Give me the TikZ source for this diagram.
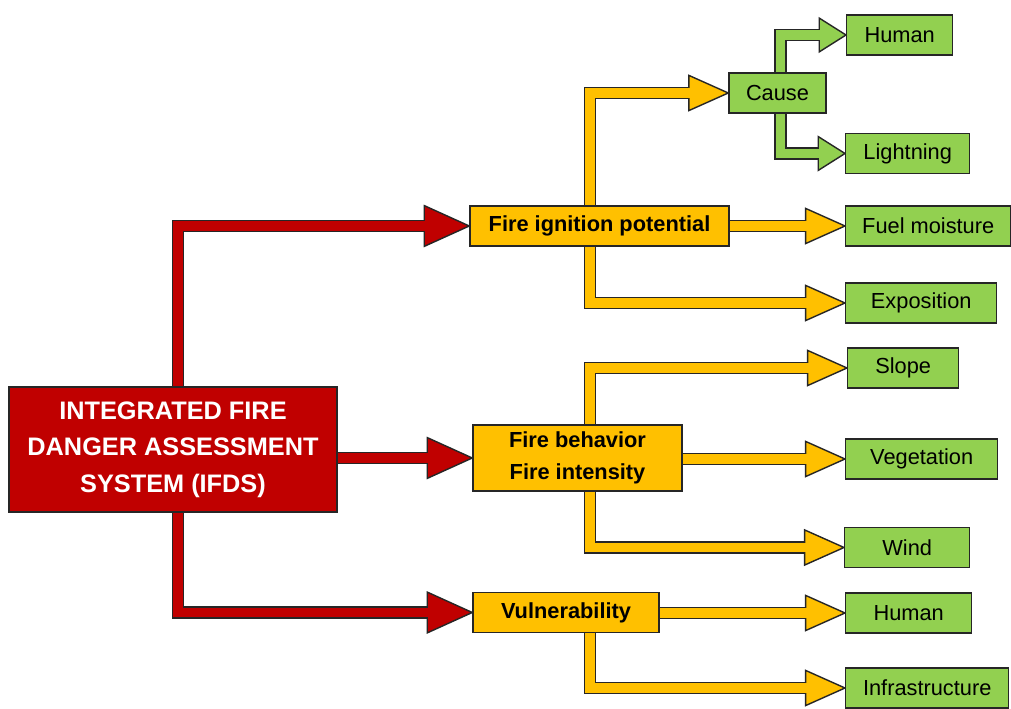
\documentclass[tikz,border=0pt]{standalone}
\usepackage{fontspec}
\setmainfont{Liberation Sans}
\usetikzlibrary{positioning,backgrounds}

\definecolor{ifdsred}{HTML}{C00000}
\definecolor{fireyellow}{HTML}{FFC000}
\definecolor{leafgreen}{HTML}{92D050}
\definecolor{edge}{HTML}{262626}

% block arrow: colour, head length, head half width, start, path op, target
\newcommand{\blockarrow}[6]{%
  \draw[edge,line width=9pt,line join=miter] (#4) #5 ([xshift=-#2]#6);
  \filldraw[fill=#1,draw=edge,line width=1pt,line join=miter]
    (#6) -- ++(-#2,#3) -- ++(0,-2*#3) -- cycle;
  \draw[#1,line width=7pt,line join=miter] (#4) #5 ([xshift=-#2+1.5pt]#6);
}

\begin{document}
\begin{tikzpicture}[x=0.025cm,y=0.025cm,
    box/.style={draw=edge,line width=1pt,inner sep=0pt,align=center},
    rootbox/.style={box,fill=ifdsred,text=white,
      font=\fontsize{18}{26}\selectfont\bfseries,
      minimum width=8.2cm,minimum height=3.125cm},
    midbox/.style={box,fill=fireyellow,
      font=\fontsize{15.5}{22.8}\selectfont\bfseries,minimum height=1cm},
    leafbox/.style={box,fill=leafgreen,
      font=\fontsize{15.5}{18}\selectfont,minimum height=1cm}]

    \useasboundingbox (0,0) rectangle (1011,709);

    \node[rootbox] (ifds) at (173,259.5)
      {INTEGRATED FIRE\\DANGER ASSESSMENT\\SYSTEM (IFDS)};
    \node[midbox,minimum width=6.475cm] (fip) at (599.5,483) {Fire ignition potential};
    \node[midbox,minimum width=5.225cm,minimum height=1.65cm] (fbh) at (577.5,251)
      {Fire behavior\\Fire intensity};
    \node[midbox,minimum width=4.65cm] (vul) at (566,96.5) {Vulnerability};
    \node[leafbox,minimum width=2.425cm] (cause) at (777.5,616) {Cause};

    \foreach \n/\t/\x/\y/\w in {human1/Human/846/674/2.65,
        light/Lightning/845/555.5/3.1, fuel/Fuel moisture/845/483/4.125,
        expo/Exposition/845/406/3.775, slope/Slope/847/341/2.775,
        veg/Vegetation/845/250/3.8, wind/Wind/844/161.5/3.125,
        human2/Human/845/96/3.15, infra/Infrastructure/845/21/4.075}
      \node[leafbox,anchor=west,minimum width=\w cm] (\n) at (\x,\y) {\t};

    \coordinate (rtrunk) at (178,0);
    \coordinate (ytrunk) at (590,0);
    \coordinate (gtrunk) at (780.5,0);

    \begin{pgfonlayer}{background}
      % red level
      \blockarrow{ifdsred}{32pt}{14.5pt}{rtrunk |- ifds.north}{|-}{fip.west}
      \blockarrow{ifdsred}{32pt}{14.5pt}{ifds.east |- fbh.west}{--}{fbh.west}
      \blockarrow{ifdsred}{32pt}{14.5pt}{rtrunk |- ifds.south}{|-}{vul.west}
      % yellow level
      \foreach \src/\dst in {fip.north/cause, fip.south/expo,
          fbh.north/slope, fbh.south/wind, vul.south/infra}
        {\blockarrow{fireyellow}{28pt}{12.5pt}{ytrunk |- \src}{|-}{\dst.west}}
      \foreach \src/\dst in {fip/fuel, fbh/veg, vul/human2}
        {\blockarrow{fireyellow}{28pt}{12.5pt}{\src.east |- \dst.west}{--}{\dst.west}}
      % green level
      \foreach \src/\dst in {cause.north/human1, cause.south/light}
        {\blockarrow{leafgreen}{19pt}{12pt}{gtrunk |- \src}{|-}{\dst.west}}
    \end{pgfonlayer}
\end{tikzpicture}
\end{document}
